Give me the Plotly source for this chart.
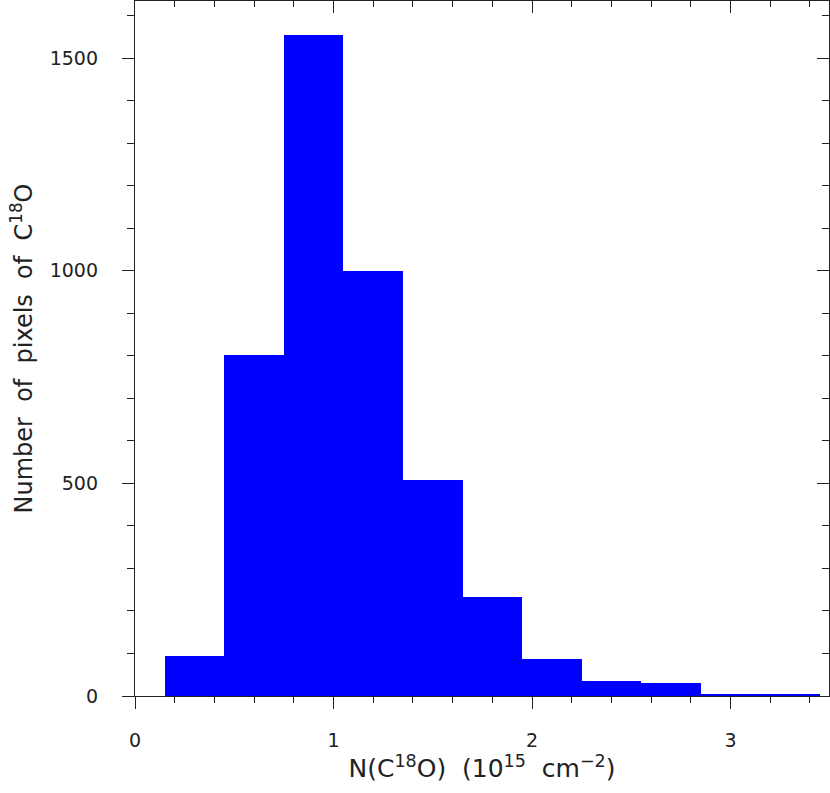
import plotly.graph_objects as go

bin_left = [0.15, 0.45, 0.75, 1.05, 1.35, 1.65, 1.95, 2.25, 2.55, 2.85, 3.15]
bin_width = 0.3
counts = [94, 802, 1555, 1000, 507, 233, 86, 35, 30, 5, 3]

x_range = [0, 3.496]
y_range = [0, 1634]

font = "DejaVu Sans"
line_col = "#222222"

fig = go.Figure()
fig.add_trace(
    go.Bar(
        x=[b + bin_width / 2 for b in bin_left],
        y=counts,
        width=bin_width,
        marker=dict(color="#0000ff", line=dict(width=0)),
        showlegend=False,
    )
)
# dummy trace so the mirrored (inward-tick) axes get drawn
fig.add_trace(go.Scatter(x=[], y=[], xaxis="x2", yaxis="y2", showlegend=False))

fig.update_layout(
    width=830,
    height=793,
    margin=dict(l=135, r=1, t=1, b=97),
    plot_bgcolor="white",
    paper_bgcolor="white",
    font=dict(family=font, size=19, color="#222222"),
    bargap=0,
    xaxis=dict(
        range=x_range,
        dtick=1,
        tick0=0,
        ticks="outside",
        ticklen=12,
        tickwidth=1.3,
        tickcolor=line_col,
        minor=dict(dtick=0.2, ticks="outside", ticklen=6, tickwidth=1.3, tickcolor=line_col),
        showline=True,
        linecolor=line_col,
        linewidth=1.3,
        mirror=True,
        showgrid=False,
        zeroline=False,
        automargin=False,
        ticklabelstandoff=15,
        title=dict(
            text="N(C<sup>18</sup>O)  (10<sup>15</sup>  cm<sup>\u22122</sup>)",
            font=dict(size=25),
            standoff=7,
        ),
    ),
    yaxis=dict(
        range=y_range,
        dtick=500,
        tick0=0,
        ticks="outside",
        ticklen=12,
        tickwidth=1.3,
        tickcolor=line_col,
        minor=dict(dtick=100, ticks="outside", ticklen=7, tickwidth=1.3, tickcolor=line_col),
        showline=True,
        linecolor=line_col,
        linewidth=1.3,
        mirror=True,
        showgrid=False,
        zeroline=False,
        automargin=False,
        ticklabelstandoff=20,
        title=dict(
            text="Number  of  pixels  of  C<sup>18</sup>O",
            font=dict(size=24),
            standoff=10,
        ),
    ),
    xaxis2=dict(
        overlaying="x",
        side="top",
        range=x_range,
        dtick=1,
        tick0=0,
        ticks="inside",
        ticklen=12,
        tickwidth=1.3,
        tickcolor=line_col,
        minor=dict(dtick=0.2, ticks="inside", ticklen=6, tickwidth=1.3, tickcolor=line_col),
        showticklabels=False,
        showgrid=False,
        zeroline=False,
        showline=False,
    ),
    yaxis2=dict(
        overlaying="y",
        side="right",
        range=y_range,
        dtick=500,
        tick0=0,
        ticks="inside",
        ticklen=12,
        tickwidth=1.3,
        tickcolor=line_col,
        minor=dict(dtick=100, ticks="inside", ticklen=7, tickwidth=1.3, tickcolor=line_col),
        showticklabels=False,
        showgrid=False,
        zeroline=False,
        showline=False,
    ),
)

# the page's default body margin would shift the whole figure by 8 px
fig.write_html(
    "out.html",
    config={"displayModeBar": False},
    post_script="document.body.style.margin='0';",
)
